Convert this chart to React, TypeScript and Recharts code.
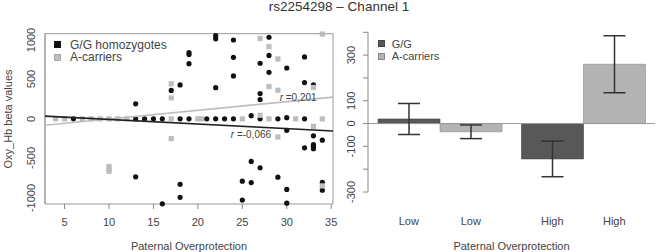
import { Bar, BarChart, ComposedChart, ErrorBar, Legend, ReferenceArea, ReferenceLine, Scatter, XAxis, YAxis } from "recharts";

const FONT = '"Liberation Sans", Arial, Helvetica, sans-serif';
const INK = "#444";

// left panel: individual beta values
const ggPoints = [
  { x: 6, y: 0 }, { x: 13, y: 0 }, { x: 14, y: 0 }, { x: 15, y: 0 }, { x: 16, y: 0 }, { x: 18, y: 0 },
  { x: 19, y: 0 }, { x: 21, y: 0 }, { x: 22, y: 0 }, { x: 23, y: 0 }, { x: 24, y: 0 }, { x: 26, y: 40 },
  { x: 27, y: 0 }, { x: 29, y: 0 }, { x: 30, y: 15 }, { x: 32, y: 0 },
  { x: 13, y: 190 }, { x: 17, y: 360 }, { x: 18, y: 430 }, { x: 19, y: 840 }, { x: 19, y: 815 },
  { x: 19, y: 700 }, { x: 22, y: 1055 }, { x: 22, y: 1015 }, { x: 22, y: 395 }, { x: 24, y: 1000 },
  { x: 24, y: 780 }, { x: 24, y: 545 }, { x: 27, y: 705 }, { x: 27, y: 320 }, { x: 27, y: 245 },
  { x: 28, y: 1035 }, { x: 28, y: 805 }, { x: 28, y: 590 }, { x: 30, y: 645 }, { x: 32, y: 785 },
  { x: 32, y: 460 }, { x: 33, y: 432 },
  { x: 13, y: -735 }, { x: 16, y: -1078 }, { x: 18, y: -830 }, { x: 18, y: -995 }, { x: 25, y: -790 },
  { x: 25, y: -1030 }, { x: 26, y: -540 }, { x: 26, y: -808 }, { x: 27, y: -620 }, { x: 29, y: -740 },
  { x: 30, y: -145 }, { x: 30, y: -895 }, { x: 30, y: -1070 }, { x: 32, y: -368 }, { x: 33, y: -215 },
  { x: 33, y: -327 }, { x: 33, y: -348 }, { x: 33, y: -378 }, { x: 34, y: -270 }, { x: 34, y: -806 },
  { x: 34, y: -905 },
];

const aPoints = [
  { x: 4, y: 0 }, { x: 5, y: 0 }, { x: 7, y: 0 }, { x: 8, y: 0 }, { x: 9, y: 0 }, { x: 10, y: 0 },
  { x: 11, y: 0 }, { x: 12, y: 0 }, { x: 17, y: 0 }, { x: 20, y: 0 }, { x: 20.4, y: 0 }, { x: 25, y: 0 },
  { x: 27, y: 45 }, { x: 28, y: 0 }, { x: 31, y: 0 }, { x: 34, y: 0 },
  { x: 17, y: 445 }, { x: 17, y: 265 }, { x: 27, y: 1020 }, { x: 28, y: 915 }, { x: 28, y: 410 },
  { x: 29, y: 760 }, { x: 29, y: 363 }, { x: 33, y: 398 }, { x: 34, y: 1075 },
  { x: 10, y: -605 }, { x: 10, y: -635 }, { x: 10, y: -665 }, { x: 17, y: -250 }, { x: 29, y: -230 },
  { x: 33, y: -95 }, { x: 34, y: -850 },
];

// fitted regression lines, end to end across the plot
const ggFit = [{ x: 2.8, y: 35 }, { x: 35.2, y: -154 }];
const aFit = [{ x: 2.8, y: -82 }, { x: 35.2, y: 276 }];
const fitLabels = [
  { x: 29.2, y: 271, text: "=0,201" },
  { x: 23.7, y: -196, text: "=-0,066" },
];

const xTicks = [5, 10, 15, 20, 25, 30, 35];
const yTicks = [-1000, -500, 0, 500, 1000];
const Y_MIN = -1080;
const Y_MAX = 1080;

// right panel: group means with error bars
const groups = ["Low", "High"];
const ggMeans = [20, -155];
const aMeans = [-36, 260];
const ggErr = [68, 78];
const aErr = [30, 125];
const barTicks = [-300, -200, -100, 0, 100, 200, 300, 400];
const barTickLabels = [-300, -100, 0, 100, 300];

const scatterLegend = [
  { label: "G/G homozygotes", fill: "#111", stroke: "#111" },
  { label: "A-carriers", fill: "#bdbdbd", stroke: "#aaa" },
];
const barLegend = [
  { label: "G/G", fill: "#585858", stroke: "#444" },
  { label: "A-carriers", fill: "#b3b3b3", stroke: "#888" },
];

const barData = groups.map((g, i) => ({ group: g, gg: ggMeans[i], a: aMeans[i], ggErr: ggErr[i], aErr: aErr[i] }));

const BAR_SIZE = 62;
const LEFT_H = 252;
const LEFT_TOP = 33.7;
const LEFT_XAXIS_H = 48;
const LEFT_PLOT_H = LEFT_H - LEFT_TOP - LEFT_XAXIS_H;

const makeRotTick = (shift: number, show?: number[]) => (props: any) => {
  const { x, y, payload } = props;
  if (show && !show.includes(Number(payload.value))) return <g />;
  return (
    <g transform={`translate(${x - shift},${y}) rotate(-90)`}>
      <text x={0} y={0} textAnchor="middle" dominantBaseline="central" fontSize={11} fill={INK} fontFamily={FONT}>
        {payload.value}
      </text>
    </g>
  );
};

const rightYTick = makeRotTick(12, barTickLabels);

const BottomTick = (props: any) => (
  <text x={props.x} y={props.y + 12.7} textAnchor="middle" dominantBaseline="central" fontSize={11} fill={INK} fontFamily={FONT}>
    {props.payload.value}
  </text>
);

const GroupTick = (props: any) => (
  <g>
    {[-1, 1].map((s) => (
      <text key={s} x={props.x + (s * BAR_SIZE) / 2} y={props.y + 29} textAnchor="middle" dominantBaseline="central" fontSize={11} fill={INK} fontFamily={FONT}>
        {props.payload.value}
      </text>
    ))}
  </g>
);

const GGDot = (p: any) => <circle cx={p.cx} cy={p.cy} r={2.6} fill="#111" />;
const ASquare = (p: any) => <rect x={p.cx - 2.6} y={p.cy - 2.6} width={5.2} height={5.2} fill="#bdbdbd" />;
const NoDot = () => <g />;
const FitLabel = (p: any) => (
  <text x={p.cx} y={p.cy} dominantBaseline="central" fontSize={10} fill={INK} fontFamily={FONT}>
    <tspan fontStyle="italic">r </tspan>
    {p.payload.text}
  </text>
);

const legendContent = (items: typeof scatterLegend, fontSize: number, gap: number) => () => (
  <div style={{ fontFamily: FONT, fontSize, color: INK }}>
    {items.map((it) => (
      <div key={it.label} style={{ display: "flex", alignItems: "center", height: 12.5, whiteSpace: "nowrap" }}>
        <span style={{ width: 5, height: 5, background: it.fill, border: `0.5px solid ${it.stroke}`, marginRight: gap }} />
        {it.label}
      </div>
    ))}
  </div>
);

const rotated = (left: number, top: number): React.CSSProperties => ({
  position: "absolute",
  left,
  top,
  transform: "translate(-50%, -50%) rotate(-90deg)",
  fontSize: 11,
  color: INK,
  whiteSpace: "nowrap",
  lineHeight: "12px",
});

export default function App() {
  return (
    <div style={{ position: "absolute", left: 0, top: 0, width: 658, height: 252, background: "#fff", fontFamily: FONT }}>
      <div style={{ position: "absolute", left: 239, width: 200, top: -1, textAlign: "center", fontSize: 13.5, color: "#333", whiteSpace: "nowrap" }}>
        rs2254298 – Channel 1
      </div>

      <div style={{ position: "absolute", left: 0, top: 0 }}>
        <ComposedChart width={340} height={LEFT_H} margin={{ top: LEFT_TOP, right: 7, bottom: 0, left: 0 }}>
          <XAxis
            type="number"
            dataKey="x"
            domain={[2.8, 35.2]}
            ticks={xTicks}
            interval={0}
            height={LEFT_XAXIS_H}
            tickSize={5}
            tickMargin={0}
            axisLine={false}
            tickLine={{ stroke: "#888" }}
            tick={BottomTick}
            label={{ value: "Paternal Overprotection", position: "insideBottom", offset: 2, fontSize: 11, fill: INK }}
          />
          <YAxis
            type="number"
            domain={[Y_MIN, Y_MAX]}
            ticks={yTicks}
            interval={0}
            width={45}
            tickSize={5}
            tickMargin={0}
            axisLine={{ stroke: "#999" }}
            tickLine={{ stroke: "#888" }}
            tick={false}
          />
          <Legend layout="vertical" align="center" verticalAlign="middle" wrapperStyle={{ left: 54, top: 38.5, width: "auto", height: "auto" }} content={legendContent(scatterLegend, 12, 9)} />
          <Scatter data={ggPoints} dataKey="y" shape={GGDot} isAnimationActive={false} />
          <Scatter data={aPoints} dataKey="y" shape={ASquare} isAnimationActive={false} />
          <Scatter data={aFit} dataKey="y" shape={NoDot} line={{ stroke: "#bdbdbd", strokeWidth: 1.6 }} isAnimationActive={false} />
          <Scatter data={ggFit} dataKey="y" shape={NoDot} line={{ stroke: "#222", strokeWidth: 1.6 }} isAnimationActive={false} />
          <Scatter data={fitLabels} dataKey="y" shape={FitLabel} isAnimationActive={false} />
          <ReferenceArea x1={2.8} x2={35.2} y1={Y_MIN} y2={Y_MAX} fill="none" stroke="#999" strokeWidth={1} />
        </ComposedChart>
        {/* rotated y tick labels of the scatter panel */}
        {yTicks.map((v) => (
          <div key={v} style={rotated(31, LEFT_TOP + ((Y_MAX - v) / (Y_MAX - Y_MIN)) * LEFT_PLOT_H)}>
            {v}
          </div>
        ))}
        <div style={rotated(8, LEFT_TOP + LEFT_PLOT_H / 2)}>Oxy_Hb beta values</div>
      </div>

      <div style={{ position: "absolute", left: 340, top: 0 }}>
        <BarChart width={318} height={252} data={barData} margin={{ top: 32.3, right: 3, bottom: 0, left: 0 }} barGap={0} barSize={BAR_SIZE}>
          <XAxis
            dataKey="group"
            height={60}
            interval={0}
            tickSize={0}
            tickMargin={0}
            axisLine={false}
            tickLine={false}
            tick={GroupTick}
            label={{ value: "Paternal Overprotection", position: "insideBottom", offset: 2, fontSize: 11, fill: INK }}
          />
          <YAxis
            type="number"
            domain={[-300, 400]}
            ticks={barTicks}
            interval={0}
            width={28}
            tickSize={5}
            tickMargin={0}
            axisLine={{ stroke: "#888" }}
            tickLine={{ stroke: "#888" }}
            tick={rightYTick}
          />
          <Legend layout="vertical" align="center" verticalAlign="middle" wrapperStyle={{ left: 37.7, top: 37.7, width: "auto", height: "auto" }} content={legendContent(barLegend, 11, 7)} />
          <ReferenceLine y={0} stroke="#999" />
          <Bar dataKey="gg" fill="#585858" stroke="#444" strokeWidth={0.6} isAnimationActive={false}>
            <ErrorBar dataKey="ggErr" width={11} stroke="#333" direction="y" isAnimationActive={false} />
          </Bar>
          <Bar dataKey="a" fill="#b3b3b3" stroke="#888" strokeWidth={0.6} isAnimationActive={false}>
            <ErrorBar dataKey="aErr" width={11} stroke="#333" direction="y" isAnimationActive={false} />
          </Bar>
        </BarChart>
      </div>
    </div>
  );
}
